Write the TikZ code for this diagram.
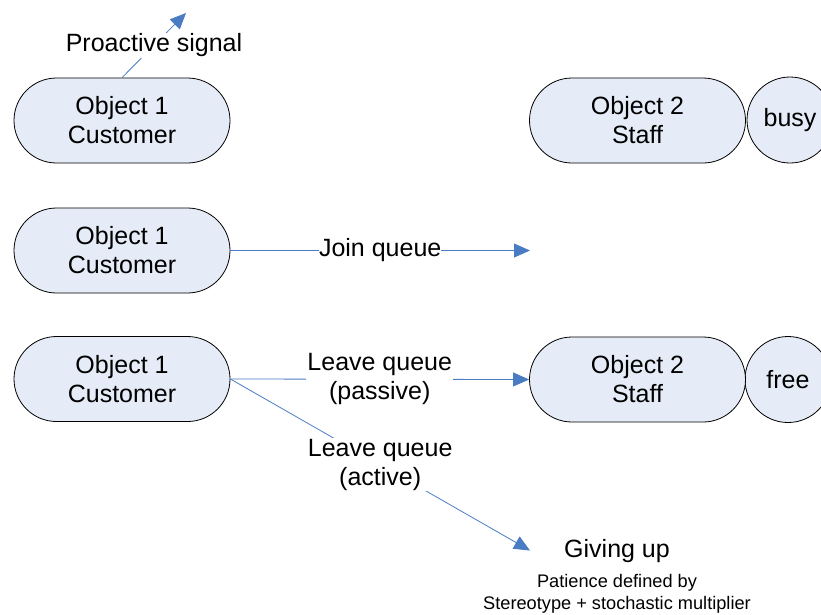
\documentclass[tikz,border=0pt]{standalone}
\usepackage{fontspec}
\setmainfont{Liberation Sans}
\usetikzlibrary{arrows.meta}
\definecolor{nodefill}{HTML}{E6ECF7}
\definecolor{arrowblue}{HTML}{4A7CC4}
\tikzset{
  stadium/.style={draw=black, fill=nodefill, line width=0.8pt, rounded corners=42.5pt,
    minimum width=216pt, minimum height=85pt, inner sep=0pt, align=center,
    font=\fontsize{25}{29}\selectfont},
  statecirc/.style={draw=black, fill=nodefill, line width=0.8pt, circle,
    minimum size=86pt, inner sep=0pt, font=\fontsize{25}{29}\selectfont},
  conn/.style={draw=arrowblue, line width=0.8pt, -{Triangle[length=16pt,width=14pt]}},
  lbl/.style={fill=white, inner sep=1pt, align=center, font=\fontsize{25}{29}\selectfont},
  plain/.style={inner sep=0pt, align=center}
}
\begin{document}
\begin{tikzpicture}[x=1pt,y=-1pt]
\useasboundingbox (0,0) rectangle (821,614);
% nodes
\node[stadium] (c1) at (122,120.5) {Object 1\\Customer};
\node[stadium] (c2) at (122,250.5) {Object 1\\Customer};
\node[stadium] (c3) at (122,379) {Object 1\\Customer};
\node[statecirc] (busy) at (790,120) {busy};
\node[stadium] (s1) at (637.5,120.5) {Object 2\\Staff};
\node[statecirc] (free) at (788,379.5) {free};
\node[stadium] (s2) at (637.5,379.5) {Object 2\\Staff};
% free ends
\coordinate (pend) at (186,13);
\coordinate (jend) at (530,250.5);
\coordinate (aend) at (530,550.5);
% connectors
\draw[conn] (c1.north) -- node[lbl, pos=0.5] {Proactive signal} (pend);
\draw[conn] (c2.east) -- node[lbl, inner sep=0pt, pos=0.5] {Join queue} (jend);
\draw[conn] (c3.east) -- node[lbl, pos=0.5] {Leave queue\\(passive)} (s2.west);
\draw[conn] (c3.east) -- node[lbl, pos=0.5] {Leave queue\\(active)} (aend);
% giving up
\node[plain, font=\fontsize{25}{29}\selectfont] (give) at (617,551) {Giving up};
\node[plain, font=\fontsize{18.2}{21.5}\selectfont] (pat) at (617,594) {Patience defined by\\Stereotype + stochastic multiplier};
\end{tikzpicture}
\end{document}
